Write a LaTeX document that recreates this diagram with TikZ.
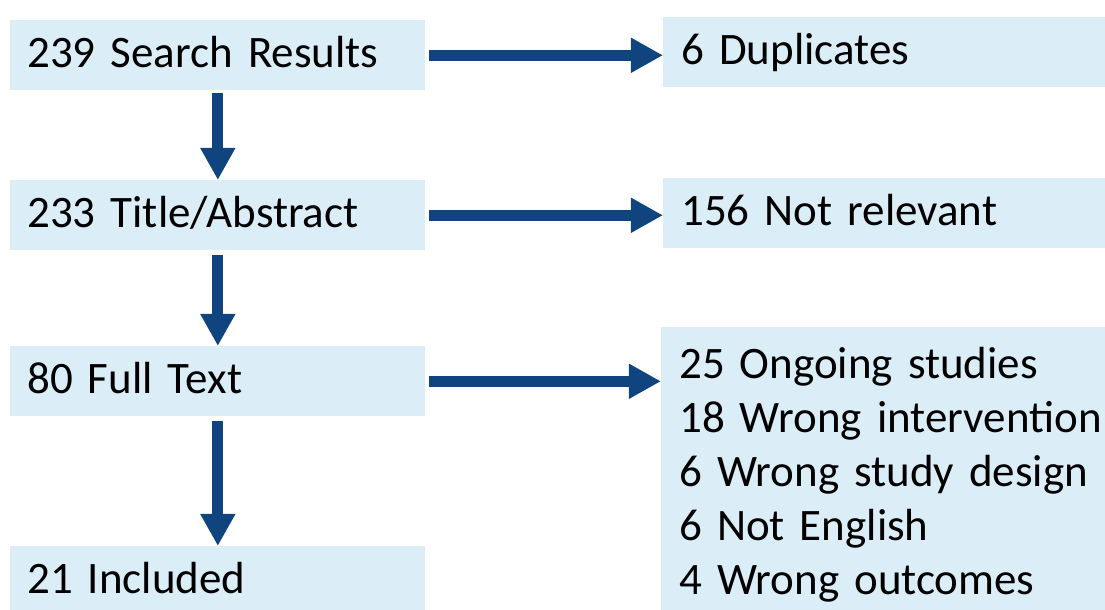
\documentclass[tikz,border=0pt]{standalone}
\usepackage{fontspec}
\setmainfont{Carlito}
\usetikzlibrary{arrows.meta}
\definecolor{boxblue}{RGB}{219,237,247}
\definecolor{arrowblue}{RGB}{16,68,126}

\begin{document}
\begin{tikzpicture}[x=0.025cm,y=-0.025cm,
  stage/.style={fill=boxblue,anchor=north west,minimum height=1.75cm,
    text width=9.525cm,inner xsep=0.425cm,align=left,
    text height=0.85cm,text depth=0.225cm,font=\fontsize{32}{38.4}\selectfont},
  removed/.style={stage,text width=11.1cm,inner xsep=0.45cm},
  reasons/.style={fill=boxblue,anchor=north west,text width=11.1cm,
    inner xsep=0.45cm,inner ysep=0.5cm,align=left,
    font=\fontsize{32}{38.4}\selectfont},
  flow/.style={arrowblue,line width=0.27cm,
    -{Triangle[length=0.8cm,width=0.82cm]}}]

% page size
\useasboundingbox (0,0) rectangle (1105,610);
\clip (0,0) rectangle (1105,610);

% screening stages
\node[stage] (search) at (10,20) {239 Search Results};
\node[stage] (title) at (10,180) {233 Title/Abstract};
\node[stage] (full) at (10,346) {80 Full Text};
\node[stage] (incl) at (10,546) {21 Included};

% excluded records
\node[removed] (dup) at (663,17) {6 Duplicates};
\node[removed] (notrel) at (663,178) {156 Not relevant};
\node[reasons] (why) at (661,327) {25 Ongoing studies\\
18 Wrong intervention\\
6 Wrong study design\\
6 Not English\\
4 Wrong outcomes};

% stage -> stage
\draw[flow,shorten <=0.05cm] (search) -- (title);
\draw[flow,shorten <=0.1cm] (title) -- (full);
\draw[flow,shorten <=0.1cm] (full) -- (incl);

% stage -> excluded
\draw[flow,shorten <=0.075cm] (search.east) -- (search.east -| dup.west);
\draw[flow,shorten <=0.075cm] (title.east) -- (title.east -| notrel.west);
\draw[flow,shorten <=0.075cm] (full.east) -- (full.east -| why.west);
\end{tikzpicture}
\end{document}
